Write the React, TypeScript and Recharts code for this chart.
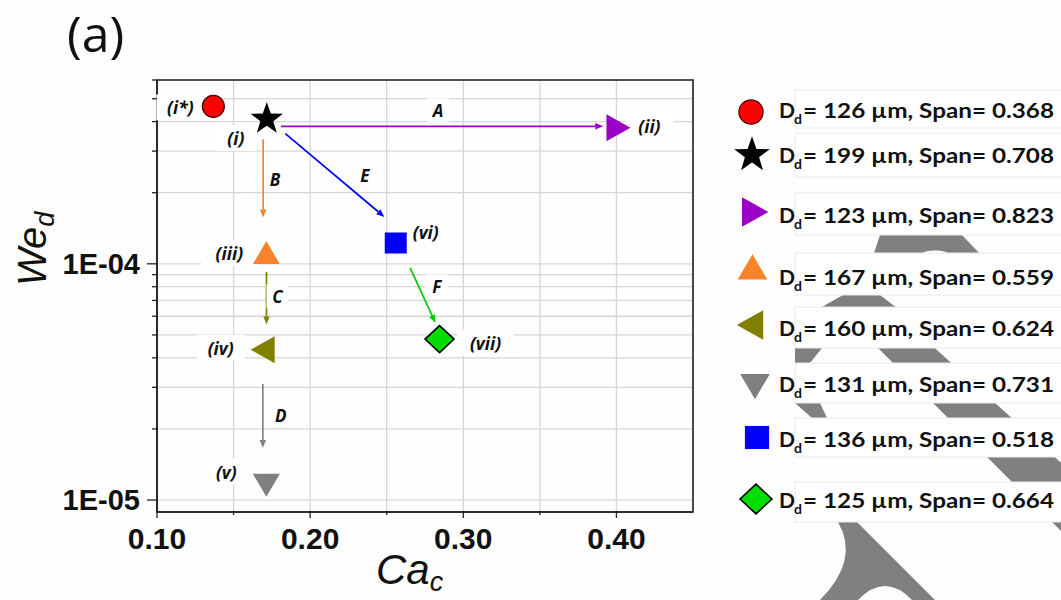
import React from 'react';
import {
  ScatterChart,
  Scatter,
  XAxis,
  YAxis,
  CartesianGrid,
  ReferenceLine,
  ReferenceDot,
  ReferenceArea,
} from 'recharts';

// ---------- data ----------
const pointNames = ['(i*)', '(i)', '(ii)', '(iii)', '(iv)', '(v)', '(vi)', '(vii)'];
const caValues = [0.1368, 0.1717, 0.4, 0.1714, 0.169, 0.1714, 0.2559, 0.2845];
const weValues = [4.64e-4, 4.1e-4, 3.77e-4, 1.11e-4, 4.33e-5, 1.16e-5, 1.225e-4, 4.8e-5];
const diameters = [126, 199, 123, 167, 160, 131, 136, 125];
const spans = ['0.368', '0.708', '0.823', '0.559', '0.624', '0.731', '0.518', '0.664'];

const arrowNames = ['A', 'B', 'C', 'D', 'E', 'F'];
const arrowFromCa = [0.1809, 0.1693, 0.1715, 0.1691, 0.1838, 0.2653];
const arrowFromWe = [3.82e-4, 3.37e-4, 9.25e-5, 3.1e-5, 3.56e-4, 9.62e-5];
const arrowToCa = [0.3914, 0.1693, 0.1715, 0.1691, 0.2485, 0.2818];
const arrowToWe = [3.82e-4, 1.57e-4, 5.53e-5, 1.66e-5, 1.58e-4, 5.62e-5];

const xTicks = [0.1, 0.15, 0.2, 0.25, 0.3, 0.35, 0.4, 0.45];
const yTicks = [
  1e-5, 2e-5, 3e-5, 4e-5, 5e-5, 6e-5, 7e-5, 8e-5, 9e-5,
  1e-4, 2e-4, 3e-4, 4e-4, 5e-4, 6e-4,
];
const xDomain = [0.1, 0.45];
const yDomain = [8.9e-6, 6e-4];

// ---------- styles ----------
const markerStyles = [
  { kind: 'circle', fill: '#ff0000', stroke: '#400000' },
  { kind: 'star', fill: '#000000', stroke: 'none' },
  { kind: 'triR', fill: '#9b00c8', stroke: 'none' },
  { kind: 'triU', fill: '#f5842c', stroke: 'none' },
  { kind: 'triL', fill: '#808000', stroke: 'none' },
  { kind: 'triD', fill: '#808080', stroke: 'none' },
  { kind: 'square', fill: '#0000ff', stroke: 'none' },
  { kind: 'diamond', fill: '#00dd00', stroke: '#000000' },
];
const pointLabelOffsets = [
  [-33, 1], [-31, 19], [33, -2], [-37, 0], [-42, -2], [-40, -13], [30, -11], [46, 4],
];
const arrowColors = ['#9b00c8', '#f5842c', '#808000', '#808080', '#0000ff', '#00cc00'];
const arrowLabelOffsets = [[-4, -16], [12, 1], [11, -2], [18, -1], [30, 0], [14, -9]];

const legendMarkerPos = [
  [751, 112], [752, 155], [753, 212], [752.5, 267.5], [750, 325], [755, 386], [757, 437.5], [756, 499],
];
const legendBaselines = [117.7, 163, 223, 285, 336, 392, 447, 508];
const legendBoxes = [
  [90, 128], [133, 177], [193, 235], [253, 295], [307, 348], [363, 403], [418, 457], [482, 522],
];

const TICK_FONT = '"Liberation Sans", Arial, sans-serif';
const LABEL_FONT = '"Open Sans", "Liberation Sans", sans-serif';

function drawMarker(kind: string, cx: number, cy: number, s: number, fill: string, stroke: string) {
  switch (kind) {
    case 'circle':
      return <circle cx={cx} cy={cy} r={11 * s} fill={fill} stroke={stroke} strokeWidth={1.2} />;
    case 'star': {
      const pts: string[] = [];
      for (let k = 0; k < 10; k++) {
        const r = (k % 2 === 0 ? 17 : 6.8) * s;
        const a = -Math.PI / 2 + (k * Math.PI) / 5;
        pts.push(`${cx + r * Math.cos(a)},${cy + r * Math.sin(a)}`);
      }
      return <polygon points={pts.join(' ')} fill={fill} />;
    }
    case 'triR':
      return (
        <polygon
          points={`${cx - 10 * s},${cy - 13.5 * s} ${cx + 14 * s},${cy} ${cx - 10 * s},${cy + 13.5 * s}`}
          fill={fill}
        />
      );
    case 'triU':
      return (
        <polygon
          points={`${cx},${cy - 12 * s} ${cx + 13.5 * s},${cy + 11 * s} ${cx - 13.5 * s},${cy + 11 * s}`}
          fill={fill}
        />
      );
    case 'triL':
      return (
        <polygon
          points={`${cx + 12 * s},${cy - 13.5 * s} ${cx + 12 * s},${cy + 13.5 * s} ${cx - 12 * s},${cy}`}
          fill={fill}
        />
      );
    case 'triD':
      return (
        <polygon
          points={`${cx - 13.5 * s},${cy - 11 * s} ${cx + 13.5 * s},${cy - 11 * s} ${cx},${cy + 12 * s}`}
          fill={fill}
        />
      );
    case 'square':
      return <rect x={cx - 11 * s} y={cy - 10.5 * s} width={22 * s} height={21 * s} fill={fill} />;
    case 'diamond':
      return (
        <polygon
          points={`${cx},${cy - 13.5 * s} ${cx + 14.5 * s},${cy} ${cx},${cy + 13.5 * s} ${cx - 14.5 * s},${cy}`}
          fill={fill}
          stroke={stroke}
          strokeWidth={1.6}
        />
      );
    default:
      return null;
  }
}

function formatExp(v: number) {
  const e = Math.round(Math.log10(v));
  return `1E${e < 0 ? '-' : '+'}${String(Math.abs(e)).padStart(2, '0')}`;
}

function isDecade(v: number) {
  const l = Math.log10(v);
  return Math.abs(l - Math.round(l)) < 1e-6;
}

function isMajorX(v: number) {
  return Math.abs(v * 10 - Math.round(v * 10)) < 1e-6;
}

const YTick = (props: any) => {
  const { x, y, payload } = props;
  const major = isDecade(payload.value);
  return (
    <g>
      <line x1={x} y1={y} x2={x - (major ? 10 : 5)} y2={y} stroke="#222" strokeWidth={1.3} />
      {major && (
        <text
          x={x - 17}
          y={y}
          textAnchor="end"
          dominantBaseline="central"
          fontFamily={TICK_FONT}
          fontWeight="bold"
          fontSize={29}
          fill="#111"
        >
          {formatExp(payload.value)}
        </text>
      )}
    </g>
  );
};

const XTick = (props: any) => {
  const { x, y, payload } = props;
  const v = payload.value;
  if (v > 0.449) return <g />;
  const major = isMajorX(v);
  return (
    <g>
      <line x1={x} y1={y - 1} x2={x} y2={y + (major ? 6 : 3)} stroke="#222" strokeWidth={1.3} />
      {major && (
        <text
          x={x}
          y={y + 36.5}
          textAnchor="middle"
          fontFamily={TICK_FONT}
          fontWeight="bold"
          fontSize={30}
          fill="#111"
        >
          {v.toFixed(2)}
        </text>
      )}
    </g>
  );
};

const points = pointNames.map((name, i) => ({ name, ca: caValues[i], we: weValues[i] }));

function makeArrowShape(i: number) {
  return (p: any) => {
    const { x1, y1, x2, y2 } = p;
    const dx = x2 - x1;
    const dy = y2 - y1;
    const len = Math.sqrt(dx * dx + dy * dy) || 1;
    const ux = dx / len;
    const uy = dy / len;
    const hl = 8;
    const hw = 3.2;
    const bx = x2 - ux * hl;
    const by = y2 - uy * hl;
    const color = arrowColors[i];
    const mx = (x1 + x2) / 2 + arrowLabelOffsets[i][0];
    const my = (y1 + y2) / 2 + arrowLabelOffsets[i][1];
    return (
      <g>
        <line x1={x1} y1={y1} x2={bx} y2={by} stroke={color} strokeWidth={1.7} />
        <polygon
          points={`${x2},${y2} ${bx - uy * hw},${by + ux * hw} ${bx + uy * hw},${by - ux * hw}`}
          fill={color}
        />
        <rect x={mx - 11} y={my - 12} width={22} height={24} fill="#ffffff" />
        <text
          x={mx}
          y={my}
          textAnchor="middle"
          dominantBaseline="central"
          fontFamily={LABEL_FONT}
          fontStyle="italic"
          fontWeight="bold"
          fontSize={17}
          fill="#111"
        >
          {arrowNames[i]}
        </text>
      </g>
    );
  };
}

function makePointLabel(i: number) {
  return (p: any) => {
    const lx = p.cx + pointLabelOffsets[i][0];
    const ly = p.cy + pointLabelOffsets[i][1];
    const w = pointNames[i].length * 8.5 + 14;
    return (
      <g>
        <rect x={lx - w / 2} y={ly - 13} width={w} height={26} fill="#ffffff" />
        <text
          x={lx}
          y={ly}
          textAnchor="middle"
          dominantBaseline="central"
          fontFamily={LABEL_FONT}
          fontStyle="italic"
          fontWeight="bold"
          fontSize={17.5}
          fill="#111"
        >
          {pointNames[i]}
        </text>
      </g>
    );
  };
}

function makeMarkerShape(i: number) {
  return (p: any) => {
    const m = markerStyles[i];
    return drawMarker(m.kind, p.cx, p.cy, 1, m.fill, m.stroke) as any;
  };
}

export default function App() {
  return (
    <div style={{ position: 'absolute', left: 0, top: 0, width: 1061, height: 600, background: '#fefefe' }}>
      <ScatterChart width={1061} height={600} margin={{ top: 80, right: 368, bottom: 38, left: 77 }}>
        <CartesianGrid stroke="#d6d6d6" strokeWidth={1.3} />
        <XAxis
          dataKey="ca"
          type="number"
          domain={xDomain}
          ticks={xTicks}
          interval={0}
          allowDataOverflow
          height={50}
          tickSize={0}
          tickMargin={0}
          tickLine={false}
          tick={XTick}
          axisLine={{ stroke: '#222', strokeWidth: 1.6 }}
        />
        <YAxis
          dataKey="we"
          type="number"
          scale="log"
          domain={yDomain}
          ticks={yTicks}
          interval={0}
          allowDataOverflow
          width={80}
          tickSize={0}
          tickMargin={0}
          tickLine={false}
          tick={YTick}
          axisLine={{ stroke: '#222', strokeWidth: 1.6 }}
        />
        <ReferenceArea
          x1={xDomain[0]}
          x2={xDomain[1]}
          y1={yDomain[0]}
          y2={yDomain[1]}
          fill="none"
          fillOpacity={0}
          stroke="#222"
          strokeWidth={1.6}
        />
        {arrowNames.map((n, i) => (
          <ReferenceLine
            key={n}
            segment={[
              { x: arrowFromCa[i], y: arrowFromWe[i] },
              { x: arrowToCa[i], y: arrowToWe[i] },
            ]}
            shape={makeArrowShape(i)}
          />
        ))}
        {points.map((pt, i) => (
          <ReferenceDot key={'lbl' + i} x={pt.ca} y={pt.we} r={1} shape={makePointLabel(i)} />
        ))}
        {points.map((pt, i) => (
          <Scatter
            key={pt.name}
            name={pt.name}
            data={[pt]}
            dataKey="we"
            isAnimationActive={false}
            shape={makeMarkerShape(i)}
          />
        ))}
      </ScatterChart>

      <svg
        width={1061}
        height={600}
        style={{ position: 'absolute', left: 0, top: 0, pointerEvents: 'none' }}
      >
        {/* background decoration behind legend */}
        <g fill="#808080">
          <polygon points="880,235 962,235 982,256 873,256" />
          <ellipse cx={935} cy={254} rx={13} ry={3.5} fill="#ffffff" />
          <polygon points="843,295 880,295 897,308 820,308" />
          <polygon points="870,340 926,340 1146,540 1070,540" />
          <polygon points="795,348 822,348 810,363 795,363" />
          <polygon points="795,403 820,403 827,418 812,418" />
          <path d="M838,522 L857,522 L935,600 L912,600 Q885,572 858,600 L820,600 Q860,560 838,522 Z" />
        </g>
        {legendBoxes.map(([t, b], i) => (
          <rect key={'box' + i} x={795} y={t} width={280} height={b - t} fill="#ffffff" stroke="#e8e8e8" strokeWidth={1} />
        ))}
        {markerStyles.map((m, i) => (
          <g key={'lm' + i}>
            {drawMarker(m.kind, legendMarkerPos[i][0], legendMarkerPos[i][1], 1.1, m.fill, m.stroke)}
            <text
              x={779}
              y={legendBaselines[i]}
              fontFamily='Lato, "Open Sans", sans-serif'
              fontWeight="bold"
              fontSize={21}
              fill="#111"
            >
              D
            </text>
            <text
              x={794}
              y={legendBaselines[i] + 6}
              fontFamily='Lato, "Open Sans", sans-serif'
              fontWeight="bold"
              fontSize={14}
              fill="#111"
            >
              d
            </text>
            <text
              x={803}
              y={legendBaselines[i]}
              fontFamily='Lato, "Open Sans", sans-serif'
              fontWeight="bold"
              fontSize={21}
              fill="#111"
              textLength={251}
              lengthAdjust="spacingAndGlyphs"
            >
              {`= ${diameters[i]} µm, Span= ${spans[i]}`}
            </text>
          </g>
        ))}
        {/* panel title */}
        <text x={67} y={52} fontFamily='"Open Sans", sans-serif' fontSize={50} fill="#111">
          (a)
        </text>
        {/* axis titles */}
        <text x={376} y={584} fontFamily={TICK_FONT} fontStyle="italic" fontSize={42} fill="#111">
          Ca
          <tspan fontSize={27} dy={7}>
            c
          </tspan>
        </text>
        <text
          transform="translate(46,286) rotate(-90)"
          fontFamily={TICK_FONT}
          fontStyle="italic"
          fontSize={40}
          fill="#111"
        >
          We
          <tspan fontSize={27} dy={8}>
            d
          </tspan>
        </text>
      </svg>
    </div>
  );
}
